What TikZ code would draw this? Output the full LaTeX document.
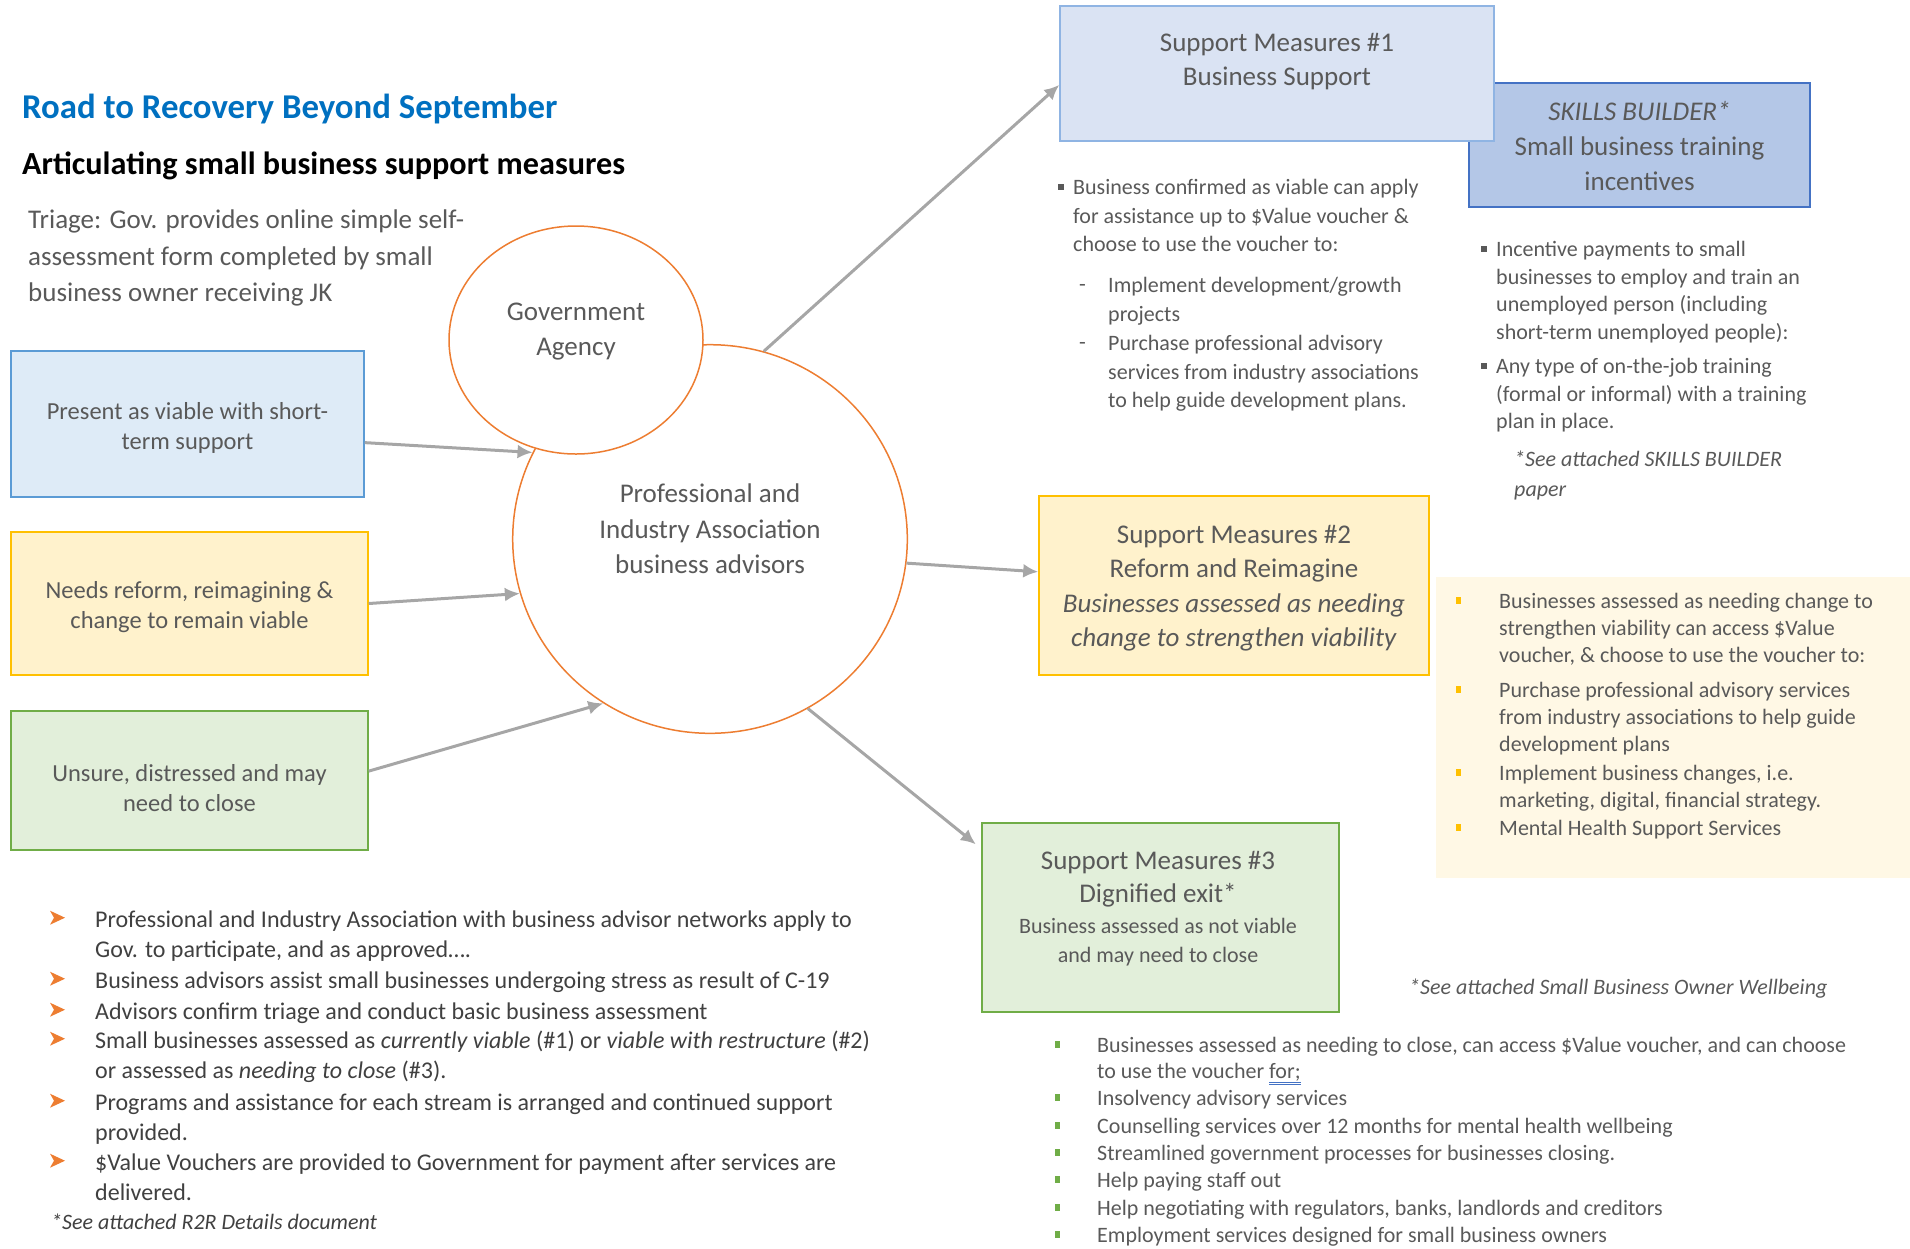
\documentclass[tikz,border=0pt]{standalone}
\usepackage{fontspec}
\setmainfont{Carlito}
\usetikzlibrary{arrows.meta,shapes.geometric,positioning}

\definecolor{titleblue}{HTML}{0070C0}
\definecolor{txtgray}{HTML}{595959}
\definecolor{txtdark}{HTML}{404040}
\definecolor{arrowgray}{HTML}{A6A6A6}
\definecolor{circorange}{HTML}{ED7D31}
\definecolor{bluefill}{HTML}{DEEBF7}
\definecolor{blueline}{HTML}{5B9BD5}
\definecolor{yelfill}{HTML}{FFF2CC}
\definecolor{yelline}{HTML}{FFC000}
\definecolor{grnfill}{HTML}{E2EFDA}
\definecolor{grnline}{HTML}{70AD47}
\definecolor{smfill}{HTML}{DAE3F3}
\definecolor{smline}{HTML}{8FB4E3}
\definecolor{skillfill}{HTML}{B4C7E7}
\definecolor{skillline}{HTML}{4472C4}
\definecolor{panelfill}{HTML}{FFF8E5}
\definecolor{spellblue}{HTML}{4472C4}

\newcommand{\fsize}[2]{\fontsize{#1}{#2}\selectfont}
% double blue underline under a word
\newcommand{\spellmark}[1]{\setbox0\hbox{#1}\rlap{\color{spellblue}\rule[-4.5pt]{\wd0}{1pt}\hspace*{-\wd0}\rule[-7pt]{\wd0}{1pt}}#1}

\begin{document}
\begin{tikzpicture}[x=1pt, y=-1pt, >={Latex[length=15pt,width=14pt]}, text=txtgray,
	leftbox/.style={draw, line width=1.5pt, inner sep=0pt},
	boxtext/.style={align=center, inner sep=0pt, font=\fsize{24.5}{30}},
	smbox/.style={draw, line width=1.5pt, inner sep=0pt},
	smtext/.style={align=center, inner sep=0pt, font=\fsize{27}{34}},
	circ/.style={ellipse, draw=circorange, line width=1.5pt, fill=white, inner sep=0pt},
	item/.style={anchor=north west, yshift=-3.5pt, inner sep=0pt, align=left, font=\fsize{22}{27.5}},
	flow/.style={->, draw=arrowgray, line width=3pt}]
	\useasboundingbox (0,0) rectangle (1910,1248);
	
	\node[anchor=base west, inner sep=0pt, text=titleblue, font=\bfseries\fsize{34.8}{40}] (title) at (22,118) {Road to Recovery Beyond September};
	\node[anchor=base west, inner sep=0pt, text=black, font=\bfseries\fsize{32.2}{38}] (subtitle) at (22,174) {Articulating small business support measures};
	\node[item, font=\fsize{27}{36.5}] (triage) at (28,206.3) {Triage: Gov. provides online simple self-\\assessment form completed by small\\business owner receiving JK};
	
	\node[leftbox, fill=bluefill, draw=blueline, minimum width=353, minimum height=146] (viable) at (187.5,424) {};
	\node[leftbox, fill=yelfill, draw=yelline, minimum width=357, minimum height=143] (reform) at (189.5,603.5) {};
	\node[leftbox, fill=grnfill, draw=grnline, minimum width=357, minimum height=139] (unsure) at (189.5,780.5) {};
	\node[boxtext] (viabletext) at ([yshift=-4.3pt]viable.center) {Present as viable with short-\\term support};
	\node[boxtext] (reformtext) at ([yshift=-3.6pt]reform.center) {Needs reform, reimagining \&\\change to remain viable};
	\node[boxtext] (unsuretext) at ([yshift=-8pt]unsure.center) {Unsure, distressed and may\\need to close};
	
	\node[circ, minimum width=394.6, minimum height=388.6] (advisors) at (710,539) {};
	\node[circ, minimum width=254, minimum height=228] (gov) at (576,340) {};
	\node[smtext, font=\fsize{27}{35.3}] (advtext) at ([yshift=10pt]advisors.center) {Professional and\\Industry Association\\business advisors};
	\node[smtext, font=\fsize{27}{35}] (govtext) at ([yshift=8pt]gov.center) {Government\\Agency};
	
	\node[smbox, fill=skillfill, draw=skillline, minimum width=341, minimum height=124] (skills) at (1639.5,145) {};
	\node[smtext, font=\fsize{27}{35}] (skilltext) at ([yshift=-1pt]skills.center) {\textit{SKILLS BUILDER*}\\Small business training\\incentives};
	\node[smbox, fill=smfill, draw=smline, minimum width=434, minimum height=135] (sm1) at (1277,73.5) {};
	\node[smtext] (sm1text) at ([yshift=12pt]sm1.center) {Support Measures \#1\\Business Support};
	\node[smbox, fill=yelfill, draw=yelline, minimum width=390, minimum height=179] (sm2) at (1234,585.5) {};
	\node[smtext, font=\fsize{27}{34.5}] (sm2text) at ([yshift=-2.5pt]sm2.center) {Support Measures \#2\\Reform and Reimagine\\\textit{Businesses assessed as needing}\\\textit{change to strengthen viability}};
	\node[smbox, fill=grnfill, draw=grnline, minimum width=357, minimum height=189] (sm3) at (1160.5,917.5) {};
	\node[smtext, font=\fsize{27}{33}] (sm3head) at (1158,879) {Support Measures \#3\\Dignified exit*};
	\node[smtext, font=\fsize{22}{29.5}] (sm3sub) at (1158,942) {Business assessed as not viable\\and may need to close};
	
	\draw[flow] (viable.-6) -- (advisors.154);
	\draw[flow] (reform.east) -- (advisors.196);
	\draw[flow] (unsure.3) -- (advisors.237);
	\draw[flow] (advisors.74) -- (sm1.183);
	\draw[flow] (advisors.-7) -- (sm2.176);
	\draw[flow, shorten >=7pt] (advisors.-60) -- (sm3.159);
	
	\node[item, font=\fsize{22}{28.6}] (bs1) at (1073,175.7) {Business confirmed as viable can apply\\for assistance up to \$Value voucher \&\\choose to use the voucher to:};
	\node[item, font=\fsize{22}{28.6}] (bs1a) at (1108,273.7) {Implement development/growth\\projects};
	\node[item, font=\fsize{22}{28.6}] (bs1b) at (1108,331.7) {Purchase professional advisory\\services from industry associations\\to help guide development plans.};
	\foreach \nd in {bs1a,bs1b}
	\node[anchor=west, inner sep=0pt, font=\fsize{22}{28.6}] (\nd-dash) at ([xshift=-29pt,yshift=-10.3pt]\nd.north west) {-};
	
	\node[item] (sk1) at (1496,237.7) {Incentive payments to small\\businesses to employ and train an\\unemployed person (including\\short-term unemployed people):};
	\node[item] (sk2) at (1496,354.7) {Any type of on-the-job training\\(formal or informal) with a training\\plan in place.};
	\node[item, font=\itshape\fsize{22}{30}] (sknote) at (1514,446.7) {*See attached SKILLS BUILDER\\paper};
	\foreach \nd in {bs1,sk1,sk2}
	\fill[txtgray] ([xshift=-12pt,yshift=-7.5pt]\nd.north west) ++(-3,-3) rectangle ++(6,6);
	
	\fill[panelfill] (1436,577) rectangle (1910,878);
	\node[item, font=\fsize{22}{27}] (rp1) at (1499,589.7) {Businesses assessed as needing change to\\strengthen viability can access \$Value\\voucher, \& choose to use the voucher to:};
	\node[item, font=\fsize{22}{27}] (rp2) at (1499,678.7) {Purchase professional advisory services\\from industry associations to help guide\\development plans};
	\node[item, font=\fsize{22}{27}] (rp3) at (1499,761.7) {Implement business changes, i.e.\\marketing, digital, financial strategy.};
	\node[item, font=\fsize{22}{27}] (rp4) at (1499,816.7) {Mental Health Support Services};
	\foreach \i in {1,...,4}
	\fill[yelline] ([xshift=-41pt,yshift=-7pt]rp\i.north west) ++(-2.5,-3.5) rectangle ++(5,7);
	
	\node[item, font=\itshape\fsize{22}{27}] (wellnote) at (1409,974.7) {*See attached Small Business Owner Wellbeing};
	\node[item, font=\fsize{22}{25.6}] (ex1) at (1097,1033.7) {Businesses assessed as needing to close, can access \$Value voucher, and can choose\\to use the voucher \spellmark{for;}};
	\node[item] (ex2) at (1097,1086.7) {Insolvency advisory services};
	\node[item] (ex3) at (1097,1114.7) {Counselling services over 12 months for mental health wellbeing};
	\node[item] (ex4) at (1097,1141.7) {Streamlined government processes for businesses closing.};
	\node[item] (ex5) at (1097,1168.7) {Help paying staff out};
	\node[item] (ex6) at (1097,1196.7) {Help negotiating with regulators, banks, landlords and creditors};
	\node[item] (ex7) at (1097,1223.7) {Employment services designed for small business owners};
	\foreach \i in {1,...,7}
	\fill[grnline] ([xshift=-40pt,yshift=-7pt]ex\i.north west) ++(-2.5,-3.5) rectangle ++(5,7);
	
	\begin{scope}[every node/.style={item, text=txtdark, font=\fsize{24}{30}}]
		\node (st1) at (95,906.7) {Professional and Industry Association with business advisor networks apply to\\Gov. to participate, and as approved….};
		\node (st2) at (95,967.7) {Business advisors assist small businesses undergoing stress as result of C-19};
		\node (st3) at (95,998.7) {Advisors confirm triage and conduct basic business assessment};
		\node (st4) at (95,1027.7) {Small businesses assessed as \textit{currently viable} (\#1) or \textit{viable with restructure} (\#2)\\or assessed as \textit{needing to close} (\#3).};
		\node (st5) at (95,1089.7) {Programs and assistance for each stream is arranged and continued support\\provided.};
		\node (st6) at (95,1149.7) {\$Value Vouchers are provided to Government for payment after services are\\delivered.};
		\node[font=\itshape\fsize{22}{27}] (r2rnote) at (51,1209.7) {*See attached R2R Details document};
	\end{scope}
	\foreach \i in {1,...,6}
	\fill[circorange] ([xshift=-38pt,yshift=-7.5pt]st\i.north west) ++(-7,-7) -- ++(15,7) -- ++(-15,7) -- ++(4,-7) -- cycle;
\end{tikzpicture}
\end{document}
